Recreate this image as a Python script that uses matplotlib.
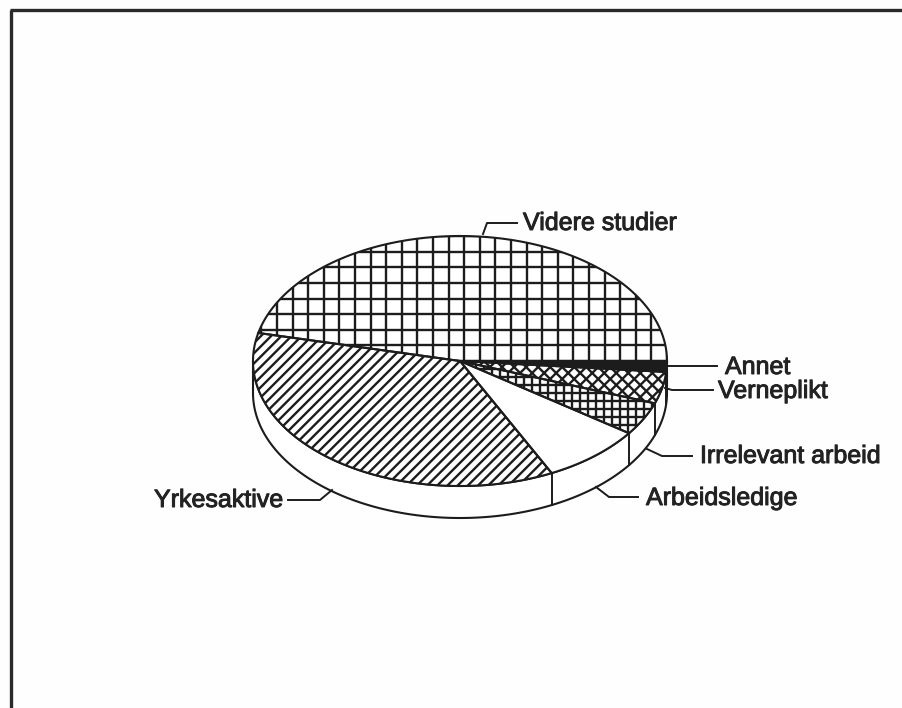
"""Squashed 3D pie chart with hatched slices and leader labels."""
import numpy as np
import matplotlib
matplotlib.use("Agg")
import matplotlib.pyplot as plt
import matplotlib.patheffects as pe
from matplotlib.collections import LineCollection
from matplotlib.patches import PathPatch
from matplotlib.path import Path

# clockwise from 3 o'clock, share of the pie in percent
categories = ["Annet", "Verneplikt", "Irrelevant arbeid", "Arbeidsledige", "Yrkesaktive", "Videre studier"]
shares = [1.4, 4.1, 4.3, 7.9, 35.9, 46.4]

CX, CY = 460.0, 361.0
RX, RY = 207.0, 125.0
DEPTH = 32.0
INK = "#1c1c1c"

# hatch per slice: (angle in degrees, spacing in px); y axis points down
HATCHES = [
    [],
    [(-45, 8.5), (45, 8.5)],
    [(0, 8.0), (90, 8.0)],
    [],
    [(-45, 7.2)],
    [(0, 15.6), (90, 15.6)],
]
HATCH_ORIGINS = [(CX, CY)] * 5 + [(464.2, CY)]
FACES = [INK, "white", "white", "white", "white", "white"]

# leader line vertices and text anchor, in figure pixels
LEADERS = {
    "Annet": ([(667, 366), (717, 366)], (725, 367), "left"),
    "Verneplikt": ([(665, 388), (672, 390), (713, 390)], (718, 391), "left"),
    "Irrelevant arbeid": ([(647, 449), (662, 456), (692, 456)], (700, 456), "left"),
    "Arbeidsledige": ([(596, 487), (609, 497), (638, 497)], (646, 498), "left"),
    "Yrkesaktive": ([(332, 490), (320, 500), (288, 500)], (283, 500), "right"),
    "Videre studier": ([(483, 234), (487, 223), (517, 223)], (523, 223), "left"),
}


def rim(t):
    return CX + RX * np.cos(t), CY - RY * np.sin(t)


def slice_path(t0, t1):
    ts = np.linspace(t0, t1, 120)
    xs, ys = rim(ts)
    verts = [(CX, CY)] + list(zip(xs, ys)) + [(CX, CY)]
    return Path(verts)


def add_hatch(ax, clip, origin, angle, spacing):
    # parallel lines across the pie, clipped to the slice
    a = np.deg2rad(angle)
    d = np.array([np.cos(a), np.sin(a)])
    n = np.array([-d[1], d[0]])
    reach = 300
    count = int(reach / spacing)
    segs = []
    for k in range(-count, count + 1):
        mid = np.array(origin) + n * k * spacing
        segs.append([mid - d * reach, mid + d * reach])
    lines = LineCollection(segs, colors=INK, linewidths=1.7, zorder=3)
    ax.add_collection(lines)
    lines.set_clip_path(clip)


fig = plt.figure(figsize=(9.03, 7.08), dpi=100, facecolor="#fefefe")
ax = fig.add_axes([0, 0, 1, 1])
ax.set_xlim(0, 903)
ax.set_ylim(708, 0)
ax.axis("off")

# page frame, open on the right and at the bottom
ax.plot([11, 11], [708, 10], color="#2a2a2a", lw=2.4, solid_capstyle="butt")
ax.plot([10, 903], [10, 10], color="#2a2a2a", lw=2.4, solid_capstyle="butt")

# side wall: lower half of the rim pushed down by DEPTH
ts = np.linspace(np.pi, 2 * np.pi, 200)
xs, ys = rim(ts)
wall = list(zip(xs, ys)) + list(zip(xs[::-1], ys[::-1] + DEPTH))
ax.add_patch(PathPatch(Path(wall + [wall[0]]), facecolor="white", edgecolor=INK, lw=1.5, zorder=1))

# slices run clockwise from angle zero
edges = np.cumsum([0.0] + shares) / 100.0 * 2 * np.pi
for i, name in enumerate(categories):
    t0, t1 = -edges[i], -edges[i + 1]
    path = slice_path(t0, t1)
    patch = PathPatch(path, facecolor=FACES[i], edgecolor="none", zorder=2)
    ax.add_patch(patch)
    for angle, spacing in HATCHES[i]:
        add_hatch(ax, patch, HATCH_ORIGINS[i], angle, spacing)
    ax.add_patch(PathPatch(path, facecolor="none", edgecolor=INK, lw=1.5, zorder=4))

    # vertical seam on the wall where a slice ends on the front half
    if np.sin(t1) < 0:
        x, y = rim(t1)
        ax.plot([x, x], [y, y + DEPTH], color=INK, lw=1.4, zorder=4)

for name in categories:
    verts, (tx, ty), ha = LEADERS[name]
    vx, vy = zip(*verts)
    ax.plot(vx, vy, color=INK, lw=1.4, zorder=5)
    ax.text(tx, ty, name, ha=ha, va="center", fontsize=18, color="#222222",
            family=["Liberation Sans", "DejaVu Sans"],
            path_effects=[pe.withStroke(linewidth=0.7, foreground="#222222")])

fig.savefig("out.png", dpi=100, facecolor=fig.get_facecolor())
